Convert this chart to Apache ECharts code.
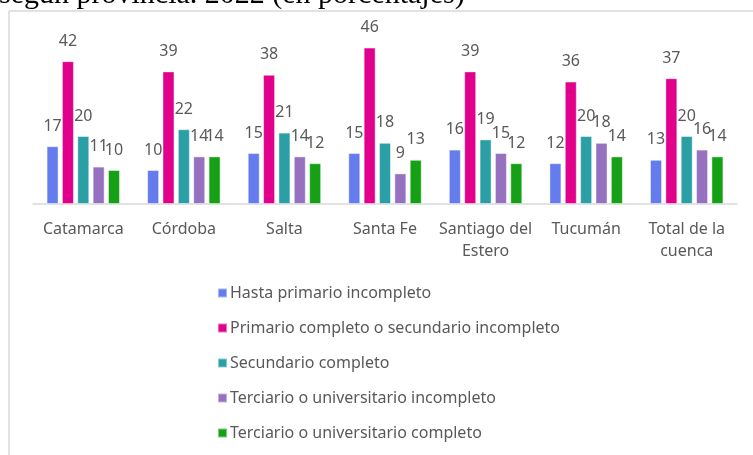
<!DOCTYPE html>
<html>
<head>
<meta charset="utf-8">
<script src="https://cdn.jsdelivr.net/npm/echarts@6/dist/echarts.min.js"></script>
<style>html,body{margin:0;padding:0;background:#fff}#c{width:753px;height:455px}</style>
</head>
<body>
<div id="c"></div>
<script>
const titleText = "según provincia. 2022 (en porcentajes)";
const categories = ["Catamarca", "Córdoba", "Salta", "Santa Fe", "Santiago del\nEstero", "Tucumán", "Total de la\ncuenca"];
const seriesNames = [
  "Hasta primario incompleto",
  "Primario completo o secundario incompleto",
  "Secundario completo",
  "Terciario o universitario incompleto",
  "Terciario o universitario completo"
];
const hastaPrimario = [17, 10, 15, 15, 16, 12, 13];
const primarioCompleto = [42, 39, 38, 46, 39, 36, 37];
const secundarioCompleto = [20, 22, 21, 18, 19, 20, 20];
const terciarioIncompleto = [11, 14, 14, 9, 15, 18, 16];
const terciarioCompleto = [10, 14, 12, 13, 12, 14, 14];
const seriesValues = [hastaPrimario, primarioCompleto, secundarioCompleto, terciarioIncompleto, terciarioCompleto];
const colors = ["#657CEE", "#E1008C", "#2A9FA6", "#9571BF", "#16A016"];

const chart = echarts.init(document.getElementById('c'), null, {renderer: 'canvas'});
const font = '"Noto Sans", sans-serif';
chart.setOption({
  animation: false,
  color: colors,
  graphic: [
    {type: 'line', shape: {x1: 9, y1: 11, x2: 753, y2: 11}, style: {stroke: '#d9d9d9', lineWidth: 1.5}, z: 0},
    {type: 'line', shape: {x1: 9, y1: 11, x2: 9, y2: 455}, style: {stroke: '#d9d9d9', lineWidth: 1.5}, z: 0},
    {type: 'text', x: -1, y: 10, style: {text: titleText, font: '30px "Liberation Serif"', fill: '#000', verticalAlign: 'bottom'}, z: 10}
  ],
  legend: {
    orient: 'vertical',
    left: 212,
    top: 278,
    itemWidth: 9,
    itemHeight: 9,
    itemGap: 15,
    icon: 'rect',
    textStyle: {fontFamily: font, fontSize: 16, color: '#595959', lineHeight: 20, padding: [0, 0, 0, -2]},
    data: seriesNames
  },
  grid: {left: 33, right: 16, top: 34, bottom: 251, containLabel: false},
  xAxis: {
    type: 'category',
    data: categories,
    axisLine: {lineStyle: {color: '#d9d9d9', width: 1.5}},
    axisTick: {show: false},
    axisLabel: {fontFamily: font, fontSize: 16, color: '#595959', margin: 14, lineHeight: 22, interval: 0}
  },
  yAxis: {
    type: 'value', min: 0, max: 50, show: false,
    splitLine: {show: false}
  },
  series: seriesValues.map((vals, i) => ({
    name: seriesNames[i],
    type: 'bar',
    data: vals,
    barWidth: 12,
    barGap: '28%',
    itemStyle: {color: colors[i], borderColor: 'rgba(255,255,255,0.45)', borderWidth: 1},
    label: {show: true, position: 'top', distance: 12, fontFamily: font, fontSize: 16, color: '#595959'}
  }))
});
</script>
</body>
</html>
